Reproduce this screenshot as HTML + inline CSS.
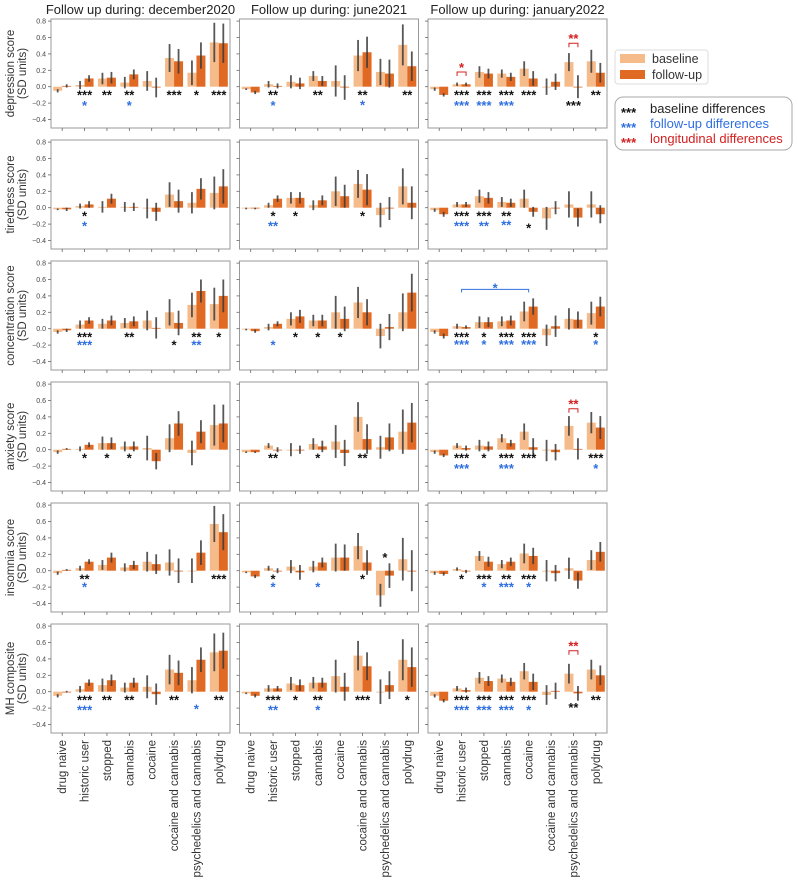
<!DOCTYPE html>
<html><head><meta charset="utf-8">
<style>
html,body{margin:0;padding:0;background:#fff;}
svg{display:block;font-family:"Liberation Sans",sans-serif;}
</style></head>
<body>
<svg id="chart" width="798" height="893" viewBox="0 0 798 893" xmlns="http://www.w3.org/2000/svg"></svg>
<script>
const categories=["drug naive","historic user","stopped","cannabis","cocaine","cocaine and cannabis","psychedelics and cannabis","polydrug"];
const columnTitles=["Follow up during: december2020","Follow up during: june2021","Follow up during: january2022"];
const rowTitles=[["depression score","(SD units)"],["tiredness score","(SD units)"],["concentration score","(SD units)"],["anxiety score","(SD units)"],["insomnia score","(SD units)"],["MH composite","(SD units)"]];
const yTicks=[0.8,0.6,0.4,0.2,0.0,-0.2,-0.4];
const yTickLabels=["0.8","0.6","0.4","0.2","0.0","\u22120.2","\u22120.4"];
const baselineValues=[
[[-0.05,0.02,0.10,0.05,0.07,0.35,0.17,0.54],[-0.03,0.03,0.06,0.13,0.07,0.38,0.18,0.51],[-0.03,0.03,0.18,0.16,0.22,0.00,0.30,0.31]],
[[-0.02,0.02,0.01,0.01,-0.01,0.16,0.06,0.18],[-0.01,0.03,0.12,0.03,0.20,0.29,-0.09,0.26],[-0.03,0.04,0.14,0.07,0.11,-0.13,0.04,0.04]],
[[-0.04,0.05,0.06,0.07,0.10,0.20,0.29,0.30],[-0.01,0.02,0.12,0.10,0.20,0.32,-0.09,0.20],[-0.04,0.03,0.08,0.09,0.21,-0.08,0.12,0.19]],
[[-0.03,0.01,0.08,0.04,0.02,0.14,-0.04,0.30],[-0.03,0.05,0.00,0.07,0.10,0.40,0.03,0.22],[-0.03,0.05,0.05,0.14,0.22,-0.01,0.29,0.33]],
[[-0.03,0.03,0.07,0.04,0.11,0.10,0.00,0.57],[-0.02,0.03,0.05,0.05,0.16,0.30,-0.30,0.14],[-0.03,0.02,0.18,0.08,0.21,0.00,0.03,0.13]],
[[-0.05,0.03,0.08,0.05,0.06,0.27,0.14,0.48],[-0.02,0.04,0.10,0.11,0.19,0.44,0.00,0.39],[-0.05,0.04,0.17,0.16,0.25,-0.04,0.22,0.27]]];
const followupValues=[
[[0.01,0.10,0.11,0.15,-0.01,0.31,0.38,0.53],[-0.07,0.01,0.04,0.07,-0.01,0.42,0.16,0.25],[-0.10,0.03,0.16,0.12,0.10,0.06,0.00,0.17]],
[[-0.02,0.04,0.11,0.01,-0.05,0.08,0.23,0.26],[-0.01,0.11,0.12,0.09,0.14,0.22,-0.01,0.06],[-0.08,0.04,0.12,0.06,-0.05,0.00,-0.12,-0.08]],
[[-0.02,0.10,0.10,0.09,0.01,0.07,0.46,0.40],[-0.03,0.06,0.15,0.10,0.12,0.20,0.02,0.44],[-0.09,0.02,0.08,0.10,0.27,0.03,0.11,0.27]],
[[0.01,0.06,0.08,0.04,-0.14,0.32,0.22,0.32],[-0.03,0.00,0.00,0.04,-0.04,0.13,0.15,0.33],[-0.07,0.02,0.04,0.08,0.03,-0.03,0.01,0.27]],
[[0.01,0.11,0.16,0.07,0.08,0.00,0.22,0.47],[-0.07,0.00,-0.02,0.10,0.16,0.10,-0.06,0.00],[-0.04,-0.01,0.11,0.11,0.18,-0.03,-0.12,0.23]],
[[0.00,0.11,0.14,0.11,-0.03,0.23,0.39,0.50],[-0.05,0.04,0.08,0.11,0.06,0.31,0.08,0.30],[-0.11,0.02,0.13,0.12,0.12,0.01,-0.02,0.20]]];
const baselineErrors=[
[[0.02,0.05,0.07,0.07,0.12,0.17,0.15,0.24],[0.01,0.04,0.08,0.06,0.19,0.19,0.16,0.25],[0.02,0.02,0.07,0.05,0.09,0.10,0.11,0.14]],
[[0.01,0.03,0.07,0.06,0.12,0.15,0.13,0.20],[0.01,0.03,0.07,0.06,0.18,0.17,0.15,0.22],[0.02,0.03,0.08,0.06,0.11,0.14,0.16,0.16]],
[[0.02,0.05,0.06,0.06,0.12,0.16,0.15,0.20],[0.01,0.04,0.08,0.07,0.20,0.19,0.15,0.23],[0.02,0.03,0.07,0.06,0.12,0.13,0.13,0.14]],
[[0.02,0.03,0.08,0.06,0.15,0.17,0.15,0.25],[0.01,0.03,0.08,0.07,0.20,0.18,0.14,0.27],[0.02,0.03,0.07,0.05,0.10,0.13,0.12,0.13]],
[[0.02,0.03,0.06,0.05,0.12,0.16,0.15,0.22],[0.01,0.03,0.08,0.07,0.17,0.16,0.14,0.26],[0.02,0.02,0.06,0.05,0.12,0.13,0.13,0.12]],
[[0.02,0.04,0.08,0.06,0.14,0.18,0.16,0.23],[0.01,0.04,0.08,0.07,0.20,0.18,0.15,0.25],[0.02,0.03,0.07,0.05,0.10,0.12,0.12,0.12]]];
const followupErrors=[
[[0.02,0.04,0.07,0.06,0.12,0.15,0.16,0.24],[0.02,0.03,0.07,0.06,0.15,0.19,0.17,0.18],[0.02,0.02,0.06,0.05,0.09,0.10,0.14,0.12]],
[[0.02,0.04,0.06,0.05,0.11,0.14,0.13,0.21],[0.01,0.04,0.07,0.06,0.14,0.19,0.14,0.20],[0.03,0.03,0.07,0.05,0.06,0.08,0.11,0.11]],
[[0.02,0.04,0.06,0.06,0.13,0.15,0.14,0.20],[0.02,0.03,0.08,0.07,0.15,0.16,0.16,0.23],[0.03,0.02,0.06,0.06,0.10,0.13,0.10,0.12]],
[[0.01,0.03,0.07,0.06,0.10,0.15,0.14,0.23],[0.01,0.03,0.05,0.07,0.16,0.18,0.17,0.24],[0.02,0.03,0.06,0.04,0.11,0.10,0.13,0.14]],
[[0.01,0.03,0.06,0.05,0.12,0.15,0.15,0.22],[0.02,0.03,0.09,0.06,0.16,0.15,0.15,0.25],[0.02,0.02,0.06,0.05,0.10,0.10,0.10,0.12]],
[[0.01,0.04,0.07,0.06,0.13,0.15,0.15,0.22],[0.02,0.03,0.07,0.06,0.17,0.17,0.17,0.24],[0.02,0.03,0.06,0.05,0.10,0.10,0.09,0.12]]];
const annotations=[
[0,0,1,"***","k",-0.07],[0,0,2,"**","k",-0.07],[0,0,3,"**","k",-0.07],[0,0,5,"***","k",-0.07],[0,0,6,"*","k",-0.07],[0,0,7,"***","k",-0.07],[0,0,1,"*","b",-0.2],[0,0,3,"*","b",-0.2],
[0,1,1,"**","k",-0.07],[0,1,3,"**","k",-0.07],[0,1,5,"**","k",-0.07],[0,1,7,"**","k",-0.07],[0,1,1,"*","b",-0.2],[0,1,5,"*","b",-0.19],
[0,2,1,"***","k",-0.07],[0,2,2,"***","k",-0.07],[0,2,3,"***","k",-0.07],[0,2,4,"***","k",-0.07],[0,2,7,"**","k",-0.07],[0,2,6,"***","k",-0.2],[0,2,1,"***","b",-0.2],[0,2,2,"***","b",-0.2],[0,2,3,"***","b",-0.2],
[1,0,1,"*","k",-0.07],[1,0,1,"*","b",-0.19],
[1,1,1,"*","k",-0.07],[1,1,2,"*","k",-0.07],[1,1,5,"*","k",-0.07],[1,1,1,"**","b",-0.19],
[1,2,1,"***","k",-0.07],[1,2,2,"***","k",-0.07],[1,2,3,"**","k",-0.07],[1,2,4,"*","k",-0.22],[1,2,1,"***","b",-0.19],[1,2,2,"**","b",-0.19],[1,2,3,"**","b",-0.18],
[2,0,1,"***","k",-0.07],[2,0,3,"**","k",-0.07],[2,0,5,"*","k",-0.17],[2,0,6,"**","k",-0.07],[2,0,7,"*","k",-0.07],[2,0,1,"***","b",-0.17],[2,0,6,"**","b",-0.17],
[2,1,2,"*","k",-0.07],[2,1,3,"*","k",-0.07],[2,1,4,"*","k",-0.07],[2,1,1,"*","b",-0.17],
[2,2,1,"***","k",-0.07],[2,2,2,"*","k",-0.07],[2,2,3,"***","k",-0.07],[2,2,4,"***","k",-0.07],[2,2,7,"*","k",-0.07],[2,2,1,"***","b",-0.16],[2,2,2,"*","b",-0.16],[2,2,3,"***","b",-0.16],[2,2,4,"***","b",-0.16],[2,2,7,"*","b",-0.16],
[3,0,1,"*","k",-0.07],[3,0,2,"*","k",-0.07],[3,0,3,"*","k",-0.07],
[3,1,1,"**","k",-0.07],[3,1,3,"*","k",-0.07],[3,1,5,"**","k",-0.07],
[3,2,1,"***","k",-0.07],[3,2,2,"*","k",-0.07],[3,2,3,"***","k",-0.07],[3,2,4,"***","k",-0.07],[3,2,7,"***","k",-0.07],[3,2,1,"***","b",-0.2],[3,2,3,"***","b",-0.2],[3,2,7,"*","b",-0.2],
[4,0,1,"**","k",-0.07],[4,0,7,"***","k",-0.07],[4,0,1,"*","b",-0.17],
[4,1,1,"*","k",-0.07],[4,1,5,"*","k",-0.07],[4,1,6,"*","k",0.19],[4,1,1,"*","b",-0.17],[4,1,3,"*","b",-0.17],
[4,2,1,"*","k",-0.07],[4,2,2,"***","k",-0.07],[4,2,3,"**","k",-0.07],[4,2,4,"***","k",-0.07],[4,2,2,"*","b",-0.17],[4,2,3,"***","b",-0.17],[4,2,4,"*","b",-0.17],
[5,0,1,"***","k",-0.07],[5,0,2,"**","k",-0.07],[5,0,3,"**","k",-0.07],[5,0,5,"**","k",-0.07],[5,0,7,"**","k",-0.07],[5,0,1,"***","b",-0.19],[5,0,6,"*","b",-0.18],
[5,1,1,"***","k",-0.07],[5,1,2,"*","k",-0.07],[5,1,3,"**","k",-0.07],[5,1,5,"***","k",-0.07],[5,1,7,"*","k",-0.07],[5,1,1,"**","b",-0.19],[5,1,3,"*","b",-0.19],
[5,2,1,"***","k",-0.07],[5,2,2,"***","k",-0.07],[5,2,3,"***","k",-0.07],[5,2,4,"***","k",-0.07],[5,2,7,"**","k",-0.07],[5,2,6,"**","k",-0.16],[5,2,1,"***","b",-0.19],[5,2,2,"***","b",-0.19],[5,2,3,"***","b",-0.19],[5,2,4,"*","b",-0.19]];
const longitudinalMarks=[[0,2,1,"*",0.18],[0,2,6,"**",0.53],[3,2,6,"**",0.5],[5,2,6,"**",0.5]];
const groupBrackets=[[2,2,1,4,"*",0.48]];

const svg=document.getElementById('chart');
const NS="http://www.w3.org/2000/svg";
function mk(tag,attrs,parent){const e=document.createElementNS(NS,tag);for(const k in attrs)e.setAttribute(k,attrs[k]);(parent||svg).appendChild(e);return e;}
const colLefts=[51,239.5,428];const panelW=179;const rowTop0=19;const rowPitch=121;const panelH=109;
const pxPerUnit=82;
function yScale(row,v){return rowTop0+row*rowPitch+67.7-v*pxPerUnit;}
function xScale(col,i){return colLefts[col]+(i+0.5)*panelW/categories.length;}
const barW=9;
const colors={k:"#111",b:"#2f6fe0",r:"#d42020"};

columnTitles.forEach((t,c)=>{
  const e=mk('text',{x:colLefts[c]+panelW/2,y:14,'text-anchor':'middle','font-size':'13',fill:'#222'});
  e.textContent=t;
  
  
});

for(let r=0;r<6;r++){
  const top=rowTop0+r*rowPitch;
  const g=mk('g',{});
  
  
  const cy=top+panelH/2;
  rowTitles[r].forEach((t,k)=>{
    const e=mk('text',{x:0,y:0,transform:`translate(${14+k*12},${cy}) rotate(-90)`,'text-anchor':'middle','font-size':'11.5',fill:'#333'},g);
    e.textContent=t;
  });
  for(let c=0;c<3;c++){
    const left=colLefts[c];
    const pg=mk('g',{});
    
    
    const frame=mk('rect',{x:left,y:top,width:panelW,height:panelH,fill:'#fff',stroke:'#999','stroke-width':1},pg);
    
    
    yTicks.forEach((v,k)=>{
      const y=yScale(r,v);
      mk('line',{x1:left-3,x2:left,y1:y,y2:y,stroke:'#666','stroke-width':0.8},pg);
      if(c===0){
        const t=mk('text',{x:left-5,y:y+2.5,'text-anchor':'end','font-size':'7',fill:'#444'},pg);
        t.textContent=yTickLabels[k];
        
        
      }
    });
    categories.forEach((cat,i)=>{
      const x=xScale(c,i);
      mk('line',{x1:x,x2:x,y1:top+panelH,y2:top+panelH+3,stroke:'#666','stroke-width':0.8},pg);
    });
    const y0=yScale(r,0);
    categories.forEach((cat,i)=>{
      const x=xScale(c,i);
      const bv=baselineValues[r][c][i], fv=followupValues[r][c][i];
      const be=baselineErrors[r][c][i], fe=followupErrors[r][c][i];
      const yb=yScale(r,bv), yf=yScale(r,fv);
      const b=mk('rect',{x:x-barW,y:Math.min(yb,y0),width:barW,height:Math.max(0.8,Math.abs(yb-y0)),fill:'#f6bb8a'},pg);
      
      
      const f=mk('rect',{x:x,y:Math.min(yf,y0),width:barW,height:Math.max(0.8,Math.abs(yf-y0)),fill:'#e06a24'},pg);
      
      
      const eb=mk('line',{x1:x-barW/2,x2:x-barW/2,y1:yScale(r,bv-be),y2:yScale(r,bv+be),stroke:'#3a3a3a','stroke-width':1.8,'stroke-opacity':0.85},pg);
      
      
      const ef=mk('line',{x1:x+barW/2,x2:x+barW/2,y1:yScale(r,fv-fe),y2:yScale(r,fv+fe),stroke:'#3a3a3a','stroke-width':1.8,'stroke-opacity':0.85},pg);
      
      
    });
    if(r===5){
      categories.forEach((cat,i)=>{
        const x=xScale(c,i);
        const t=mk('text',{x:0,y:0,transform:`translate(${x+4},${top+panelH+7}) rotate(-90)`,'text-anchor':'end','font-size':'11.5',fill:'#333'});
        t.textContent=cat;
        
        
      });
    }
  }
}
annotations.forEach(a=>{
  const [r,c,i,txt,kind,v]=a;
  const t=mk('text',{x:xScale(c,i),y:yScale(r,v)+7,'text-anchor':'middle','font-size':'13','font-weight':'bold',fill:colors[kind]});
  t.textContent=txt;
  
  
});
longitudinalMarks.forEach(m=>{
  const [r,c,i,txt,v]=m;
  const x=xScale(c,i), y=yScale(r,v);
  const p=mk('path',{d:`M${x-barW/2},${y+4}V${y}H${x+barW/2}V${y+4}`,fill:'none',stroke:colors.r,'stroke-width':1});
  
  
  const t=mk('text',{x:x,y:y,'text-anchor':'middle','font-size':'13','font-weight':'bold',fill:colors.r});
  t.textContent=txt;
  
  
});
groupBrackets.forEach(m=>{
  const [r,c,i1,i2,txt,v]=m;
  const x1=xScale(c,i1),x2=xScale(c,i2),y=yScale(r,v);
  const p=mk('path',{d:`M${x1},${y+3}V${y}H${x2}V${y+3}`,fill:'none',stroke:colors.b,'stroke-width':1});
  
  
  const t=mk('text',{x:(x1+x2)/2,y:y+3,'text-anchor':'middle','font-size':'13','font-weight':'bold',fill:colors.b});
  t.textContent=txt;
  
  
});
</script>
<svg style="position:absolute;left:0;top:0" width="798" height="893">
  <g font-family="Liberation Sans, sans-serif">
    <rect x="615" y="50" width="93" height="34" rx="3" fill="#fff" stroke="#ddd"/>
    <rect x="620" y="54" width="25" height="9" fill="#f6bb8a"/>
    <text x="652" y="63" font-size="12.5" fill="#333">baseline</text>
    <rect x="620" y="70" width="25" height="9" fill="#e06a24"/>
    <text x="652" y="79" font-size="12.5" fill="#333">follow-up</text>
  </g>
  <g font-family="Liberation Sans, sans-serif">
    <rect x="615" y="97" width="177" height="53" rx="8" fill="#fff" stroke="#aaa"/>
    <text x="621" y="117" font-size="13" font-weight="bold" fill="#111">***</text>
    <text x="650" y="113" font-size="13" fill="#222">baseline differences</text>
    <text x="621" y="132" font-size="13" font-weight="bold" fill="#2f6fe0">***</text>
    <text x="650" y="128" font-size="13" fill="#2f6fe0">follow-up differences</text>
    <text x="621" y="147" font-size="13" font-weight="bold" fill="#d42020">***</text>
    <text x="650" y="143" font-size="13" fill="#d42020">longitudinal differences</text>
  </g>
</svg>
</body></html>
